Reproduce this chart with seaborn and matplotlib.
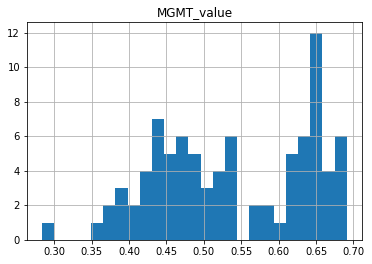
import matplotlib
matplotlib.use("Agg")
import matplotlib.pyplot as plt
import seaborn as sns
import numpy as np
import pandas as pd

# Histogram: 25 equal bins between the data min and max
data_min = 0.2839
data_max = 0.6911
n_bins = 25
counts = [1, 0, 0, 0, 1, 2, 3, 2, 4, 7, 5, 6, 5, 3, 4, 6, 0, 2, 2, 1, 5, 6, 12, 4, 6]

edges = np.linspace(data_min, data_max, n_bins + 1)
centers = (edges[:-1] + edges[1:]) / 2
df = pd.DataFrame({"MGMT_value": centers, "count": counts})

fig = plt.figure(figsize=(372 / 72, 264 / 72), dpi=72)
ax = fig.add_axes([27 / 372, 24 / 264, 335 / 372, 217.7 / 264])

sns.histplot(data=df, x="MGMT_value", weights="count", bins=n_bins,
             binrange=(data_min, data_max), color="#1f77b4", alpha=1,
             linewidth=0, edgecolor="none", ax=ax)

ax.grid(True, color="#b0b0b0", linewidth=0.8)
ax.set_axisbelow("line")
ax.set_xlabel("")
ax.set_ylabel("")
ax.set_title("MGMT_value", fontsize=12)
ax.set_xticks(np.arange(0.30, 0.701, 0.05))
ax.set_xticklabels([f"{v:.2f}" for v in np.arange(0.30, 0.701, 0.05)])
ax.set_yticks(range(0, 13, 2))
ax.tick_params(labelsize=10)
ax.set_xlim(0.2635, 0.7115)
ax.set_ylim(0, 12.6)
for s in ax.spines.values():
    s.set_color("black")
    s.set_linewidth(0.8)

fig.savefig("out.png", dpi=72)
